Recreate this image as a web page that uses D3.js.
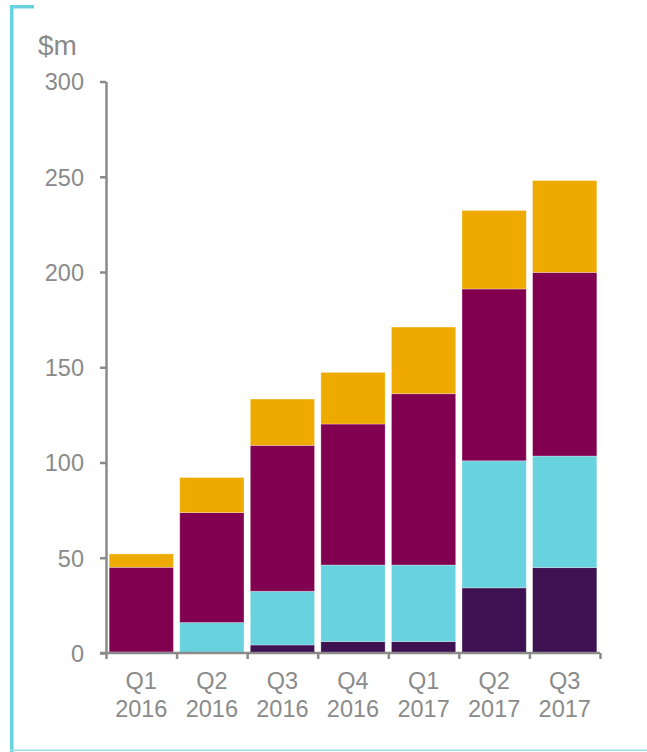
<!DOCTYPE html>
<html>
<head>
<meta charset="utf-8">
<script src="https://cdn.jsdelivr.net/npm/d3@7"></script>
<style>
  html, body { margin: 0; padding: 0; background: #fff; }
  svg { display: block; font-family: "Liberation Sans", Arial, sans-serif; }
</style>
</head>
<body>
<svg id="chart" width="647" height="752"></svg>
<script>
// ---- data ----
const quarters = ["Q1", "Q2", "Q3", "Q4", "Q1", "Q2", "Q3"];
const years    = ["2016", "2016", "2016", "2016", "2017", "2017", "2017"];
const seriesNames = ["Series A", "Series B", "Series C", "Series D"];
const seriesA = [0.5, 0, 4.2, 6, 6, 34.2, 44.8];          // dark purple (bottom)
const seriesB = [0, 16, 28.2, 40.2, 40.2, 66.7, 58.6];    // cyan
const seriesC = [44.5, 57.7, 76.6, 74, 89.9, 90.2, 96.4]; // magenta
const seriesD = [7, 18.4, 24.3, 27.1, 35, 41.2, 48.2];    // yellow (top)
const yTicks = [0, 50, 100, 150, 200, 250, 300];
const unitLabel = "$m";

const colors = ["#3d1152", "#68d2df", "#820050", "#efaa00"];

// ---- build table ----
const cats = quarters.map((q, i) => q + " " + years[i]);
const table = cats.map((c, i) => ({
  cat: c,
  [seriesNames[0]]: seriesA[i],
  [seriesNames[1]]: seriesB[i],
  [seriesNames[2]]: seriesC[i],
  [seriesNames[3]]: seriesD[i]
}));
const stacked = d3.stack().keys(seriesNames)(table);

const svg = d3.select("#chart");

// frame decoration
svg.append("rect").attr("x", 10).attr("y", 5).attr("width", 3.5).attr("height", 747).attr("fill", "#68d2df");
svg.append("rect").attr("x", 10).attr("y", 5).attr("width", 24).attr("height", 3.5).attr("fill", "#68d2df");
svg.append("rect").attr("x", 10).attr("y", 749.5).attr("width", 637).attr("height", 1.5).attr("fill", "#9adde6");

const mLeft = 106, mRight = 600, mTop = 81.5, mBottom = 653;

const x = d3.scaleBand().domain(cats).range([mLeft, mRight]).paddingInner(0.09).paddingOuter(0.045);
const y = d3.scaleLinear().domain([0, 300]).range([mBottom, mTop]);

// bars
svg.append("g").selectAll("g").data(stacked).join("g")
  .attr("fill", (d, i) => colors[i])
  .selectAll("rect").data(d => d).join("rect")
  .attr("x", d => x(d.data.cat))
  .attr("width", x.bandwidth())
  .attr("y", d => y(d[1]))
  .attr("height", d => Math.max(0, y(d[0]) - y(d[1])))
  .attr("stroke", "rgba(255,255,255,0.35)")
  .attr("stroke-width", 0.8);

const grey = "#8a8a8a";

// y axis
const yAxis = svg.append("g")
  .attr("transform", `translate(${mLeft},0)`)
  .call(d3.axisLeft(y).tickValues(yTicks).tickSize(6).tickSizeOuter(0).tickPadding(16));
yAxis.select(".domain").attr("stroke", grey).attr("stroke-width", 2.5);
yAxis.selectAll(".tick line").attr("stroke", grey).attr("stroke-width", 2.5);
yAxis.selectAll(".tick text").attr("fill", grey).attr("font-size", "23.5px")
  .attr("font-family", "Liberation Sans, Arial, sans-serif").attr("dy", "0.36em");

// x axis (ticks at band boundaries)
const xb = d3.scaleLinear().domain([0, cats.length]).range([mLeft, mRight]);
const xAxis = svg.append("g")
  .attr("transform", `translate(0,${mBottom})`)
  .call(d3.axisBottom(xb).tickValues(d3.range(cats.length + 1)).tickSize(6).tickSizeOuter(0).tickFormat(""));
xAxis.select(".domain").attr("stroke", grey).attr("stroke-width", 2.5).attr("d", `M${mLeft - 6},0H${mRight}`);
xAxis.selectAll(".tick line").attr("stroke", grey).attr("stroke-width", 2.5);

// category labels
const lab = svg.append("g").attr("fill", grey).attr("font-size", "23.5px").attr("text-anchor", "middle");
cats.forEach((c, i) => {
  const cx = x(c) + x.bandwidth() / 2;
  lab.append("text").attr("x", cx).attr("y", 689).text(quarters[i]);
  lab.append("text").attr("x", cx).attr("y", 717).text(years[i]);
});

// unit label
svg.append("text").attr("x", 38).attr("y", 55).attr("fill", grey).attr("font-size", "28px").text(unitLabel);
</script>
</body>
</html>
